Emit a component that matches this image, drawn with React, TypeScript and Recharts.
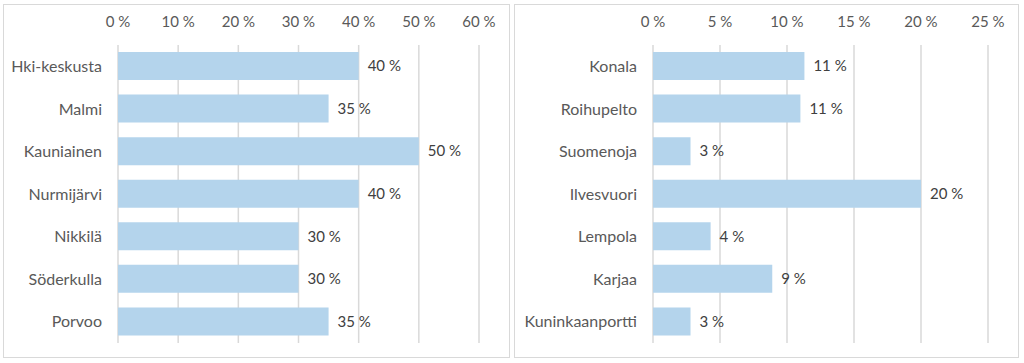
import { BarChart, Bar, XAxis, YAxis, CartesianGrid, LabelList } from 'recharts';

const leftCategories = ['Hki-keskusta', 'Malmi', 'Kauniainen', 'Nurmijärvi', 'Nikkilä', 'Söderkulla', 'Porvoo'];
const leftValues = [40, 35, 50, 40, 30, 30, 35];
const leftTicks = [0, 10, 20, 30, 40, 50, 60];

const rightCategories = ['Konala', 'Roihupelto', 'Suomenoja', 'Ilvesvuori', 'Lempola', 'Karjaa', 'Kuninkaanportti'];
const rightValues = [11.3, 11.0, 2.8, 20.0, 4.3, 8.9, 2.8];
const rightTicks = [0, 5, 10, 15, 20, 25];

const FONT = 'Lato, "Open Sans", sans-serif';
const BAR = '#B4D4EC';
const GRID = '#D9D9D9';

interface PanelProps {
  categories: string[];
  values: number[];
  ticks: number[];
  left: number;
  width: number;
  yAxisWidth: number;
}

function Panel({ categories, values, ticks, left, width, yAxisWidth }: PanelProps) {
  const data = categories.map((name, i) => ({ name, value: values[i] }));
  const inner = width - 2;
  return (
    <div
      style={{
        position: 'absolute',
        left,
        top: 4,
        width,
        height: 354,
        boxSizing: 'border-box',
        border: `1px solid ${GRID}`,
        background: '#fff',
      }}
    >
      <BarChart
        width={inner}
        height={352}
        data={data}
        layout="vertical"
        margin={{ top: 0, right: 30, left: 0, bottom: 14 }}
      >
        <CartesianGrid horizontal={false} stroke={GRID} strokeWidth={1.5} />
        <XAxis
          type="number"
          orientation="top"
          domain={[ticks[0], ticks[ticks.length - 1]]}
          ticks={ticks}
          height={40}
          axisLine={false}
          tickLine={false}
          tickSize={0}
          tickMargin={18}
          tick={{ fontSize: 15, fill: '#595959', fontFamily: FONT }}
          tickFormatter={(v) => `${v} %`}
        />
        <YAxis
          type="category"
          dataKey="name"
          width={yAxisWidth}
          axisLine={false}
          tickLine={false}
          tickSize={0}
          tickMargin={16}
          tick={{ fontSize: 16, fill: '#595959', fontFamily: FONT }}
        />
        <Bar dataKey="value" fill={BAR} barSize={28} isAnimationActive={false}>
          <LabelList
            dataKey="value"
            position="right"
            offset={9}
            formatter={(v: number) => `${Math.round(v)} %`}
            style={{ fontSize: 15, fill: '#404040', fontFamily: FONT }}
          />
        </Bar>
      </BarChart>
    </div>
  );
}

export default function App() {
  return (
    <div style={{ position: 'absolute', left: 0, top: 0, width: 1024, height: 363, background: '#fff' }}>
      <Panel categories={leftCategories} values={leftValues} ticks={leftTicks} left={3} width={507} yAxisWidth={114} />
      <Panel categories={rightCategories} values={rightValues} ticks={rightTicks} left={514} width={505} yAxisWidth={138} />
    </div>
  );
}
